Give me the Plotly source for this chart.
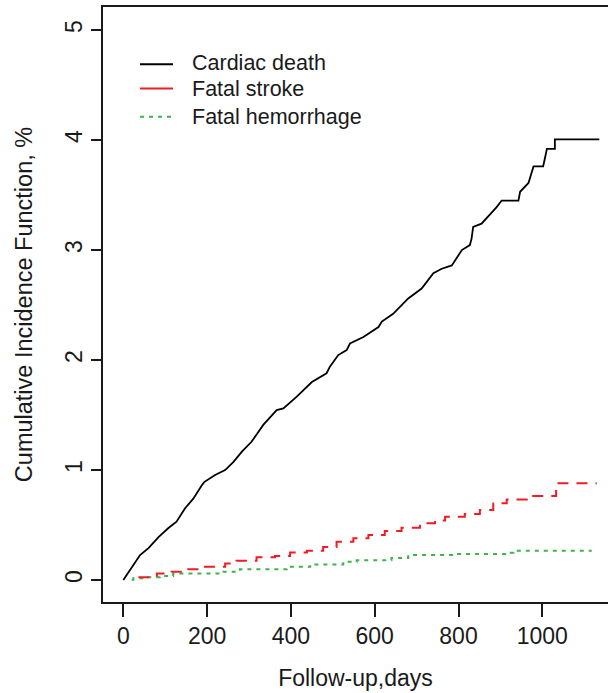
import plotly.graph_objects as go

# Cardiac death
cardiac_days = [0, 16, 40, 60, 84, 107, 127, 147, 167, 187, 193, 219, 243, 263, 283, 306,
                334, 366, 382, 414, 450, 485, 493, 513, 533, 541, 573, 609, 617, 644, 680,
                712, 740, 760, 784, 808, 827, 831, 835, 855, 875, 891, 903, 943, 947, 967,
                979, 1002, 1006, 1011, 1030, 1030, 1136]
cardiac_cif = [0, 0.09, 0.227, 0.29, 0.39, 0.47, 0.53, 0.65, 0.74, 0.86, 0.89, 0.955, 1.0,
               1.075, 1.167, 1.257, 1.41, 1.545, 1.56, 1.667, 1.80, 1.88, 1.94, 2.045, 2.09,
               2.15, 2.21, 2.30, 2.35, 2.42, 2.56, 2.65, 2.79, 2.83, 2.86, 3.0, 3.045, 3.10,
               3.21, 3.24, 3.32, 3.39, 3.45, 3.45, 3.53, 3.61, 3.76, 3.76, 3.83, 3.92, 3.92,
               4.006, 4.006]

# Fatal stroke
stroke_days = [36, 80, 115, 155, 195, 243, 270, 318, 362, 398, 438, 477, 509, 549, 585, 624,
               664, 708, 744, 768, 815, 851, 883, 915, 963, 1033, 1130]
stroke_cif = [0.025, 0.06, 0.076, 0.097, 0.12, 0.15, 0.175, 0.206, 0.218, 0.25, 0.266, 0.30,
              0.348, 0.379, 0.41, 0.445, 0.476, 0.515, 0.54, 0.576, 0.60, 0.636, 0.697, 0.733,
              0.763, 0.879, 0.879]

# Fatal hemorrhage
hem_days = [20, 24, 48, 88, 119, 239, 278, 390, 446, 525, 557, 640, 680, 788, 919, 931, 1118]
hem_cif = [0.003, 0.015, 0.025, 0.036, 0.06, 0.076, 0.097, 0.12, 0.142, 0.167, 0.18, 0.20,
           0.227, 0.236, 0.248, 0.266, 0.266]

x_ticks = [0, 200, 400, 600, 800, 1000]
y_ticks = [0, 1, 2, 3, 4, 5]
legend_names = ["Cardiac death", "Fatal stroke", "Fatal hemorrhage"]

BLACK = "#000000"
RED = "#EE1C25"
GREEN = "#3CB44A"
FONT = "Liberation Sans, Arial, sans-serif"

fig = go.Figure()
fig.add_trace(go.Scatter(x=hem_days, y=hem_cif, mode="lines", line_shape="hv",
                         line=dict(color=GREEN, width=2, dash="4px,5px"),
                         name=legend_names[2], showlegend=False))
fig.add_trace(go.Scatter(x=stroke_days, y=stroke_cif, mode="lines", line_shape="hv",
                         line=dict(color=RED, width=2, dash="11px,8px"),
                         name=legend_names[1], showlegend=False))
fig.add_trace(go.Scatter(x=cardiac_days, y=cardiac_cif, mode="lines",
                         line=dict(color=BLACK, width=1.8),
                         name=legend_names[0], showlegend=False))

# manual legend (paper coordinates)
L, T, W, H = 103, 7, 505, 595
def px(xp):
    return (xp - L) / W
def py(yp):
    return (T + H - yp) / H

leg_rows = [(64.3, BLACK, "solid", 63.3), (88.5, RED, "solid", 89.3), (116.7, GREEN, "dot", 117)]
for (ly, col, dsh, ty), name in zip(leg_rows, legend_names):
    fig.add_shape(type="line", xref="paper", yref="paper", x0=px(140), x1=px(173),
                  y0=py(ly), y1=py(ly),
                  line=dict(color=col, width=2, dash="4px,5px" if dsh == "dot" else "solid"))
    fig.add_annotation(xref="paper", yref="paper", x=px(190), y=py(ty), text=name,
                       showarrow=False, xanchor="left", yanchor="middle",
                       font=dict(size=21.5, color="#1a1a1a", family=FONT))

fig.update_layout(
    width=608, height=693,
    margin=dict(l=103, r=0, t=7, b=91, autoexpand=False),
    plot_bgcolor="white", paper_bgcolor="white",
    font=dict(family=FONT, color="#1a1a1a"),
    showlegend=False,
)
fig.update_xaxes(range=[-48.5, 1156.8], tickvals=x_ticks, ticktext=[str(v) for v in x_ticks],
                 ticks="outside", ticklen=13, tickwidth=1.5, tickcolor="#1a1a1a",
                 showline=True, linewidth=1.5, linecolor="#1a1a1a", mirror=True,
                 showgrid=False, zeroline=False, tickfont=dict(size=23), automargin=False,
                 title=dict(text="Follow-up,days", font=dict(size=23), standoff=22))
fig.update_yaxes(range=[-0.2, 5.21], tickvals=y_ticks, ticktext=[str(v) for v in y_ticks],
                 ticks="outside", ticklen=10, tickwidth=1.5, tickcolor="#1a1a1a",
                 showline=True, linewidth=1.5, linecolor="#1a1a1a", mirror=False,
                 showgrid=False, zeroline=False, tickfont=dict(size=23), tickangle=-90,
                 automargin=False,
                 title=dict(text="Cumulative Incidence Function, %", font=dict(size=23.5), standoff=22))

fig.write_html("out.html", config={"displayModeBar": False},
               post_script="document.body.style.margin='0';document.body.style.overflow='hidden';")
